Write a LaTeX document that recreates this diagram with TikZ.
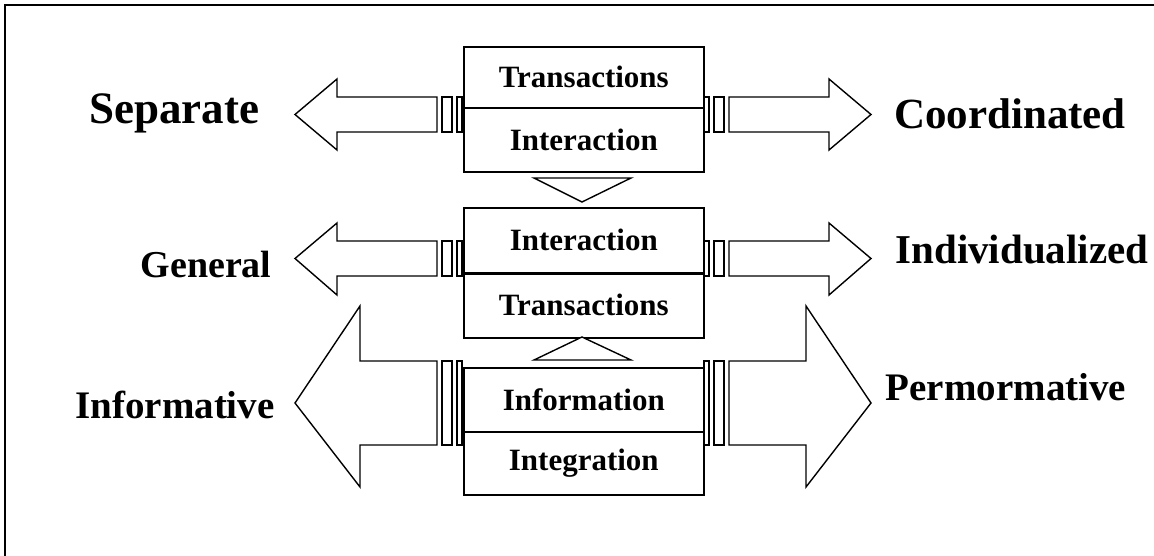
\documentclass[tikz,border=0pt]{standalone}
\usepackage{fontspec}
\setmainfont{Liberation Serif}
\newcommand\sarrows[5]{%
  \pgfmathsetmacro\yc{(#1+#2)/2}%
  \pgfmathsetmacro\hr{1166-#5}%
  \draw[arr] (295,\yc) -- (#5,#3) -- (#5,#1) -- (437,#1) -- (437,#2) -- (#5,#2) -- (#5,#4) -- cycle;
  \draw[arr] (442,#1) rectangle (452,#2);
  \draw[arr] (457,#1) rectangle (462,#2);
  \draw[arr] (871,\yc) -- (\hr,#3) -- (\hr,#1) -- (729,#1) -- (729,#2) -- (\hr,#2) -- (\hr,#4) -- cycle;
  \draw[arr] (714,#1) rectangle (724,#2);
  \draw[arr] (704,#1) rectangle (709,#2);
}
\begin{document}
\begin{tikzpicture}[x=1pt,y=-1pt,line join=miter,
  cell/.style={draw,line width=1.6pt,fill=white,minimum width=240pt,inner sep=0pt,anchor=north west,
    font=\fontsize{31}{36}\selectfont\bfseries},
  lab/.style={font=\bfseries},
  arr/.style={draw,line width=1.4pt,fill=white},
  tri/.style={draw,line width=1.4pt,fill=white}]
\useasboundingbox (0,0) rectangle (1154,556);
\draw[line width=2.5pt] (5,556) -- (5,5) -- (1154,5);
% striped block arrows
\sarrows{97}{132}{79}{150}{337}
\sarrows{241}{276}{223}{295}{337}
\sarrows{361}{445}{306}{487}{360}
% boxes
\node[cell,minimum height=61pt] (t1) at (463,46) {Transactions};
\node[cell,minimum height=64pt] (i1) at (463,107) {Interaction};
\node[cell,minimum height=65pt] (i2) at (463,207) {Interaction};
\node[cell,minimum height=65pt] (t2) at (463,272) {Transactions};
\draw[line width=2.8pt] (i2.south west) -- (i2.south east);
\node[cell,minimum height=64pt] (inf) at (463,367) {Information};
\node[cell,minimum height=63pt] (int) at (463,431) {Integration};
% triangles
\draw[tri] (534,178) -- (631,178) -- (582,202) -- cycle;
\draw[tri] (582,337) -- (631,360) -- (534,360) -- cycle;
% labels
\node[lab,font=\fontsize{45}{52}\selectfont\bfseries] (sep) at (174,113) {Separate};
\node[lab,font=\fontsize{43}{50}\selectfont\bfseries] (coo) at (1010,114) {Coordinated};
\node[lab,font=\fontsize{38}{45}\selectfont\bfseries] (gen) at (206,265) {General};
\node[lab,font=\fontsize{41}{48}\selectfont\bfseries] (ind) at (1022,250) {Individualized};
\node[lab,font=\fontsize{39}{46}\selectfont\bfseries] (infv) at (175,405) {Informative};
\node[lab,font=\fontsize{39}{46}\selectfont\bfseries] (perm) at (1006,387) {Permormative};
\end{tikzpicture}
\end{document}
